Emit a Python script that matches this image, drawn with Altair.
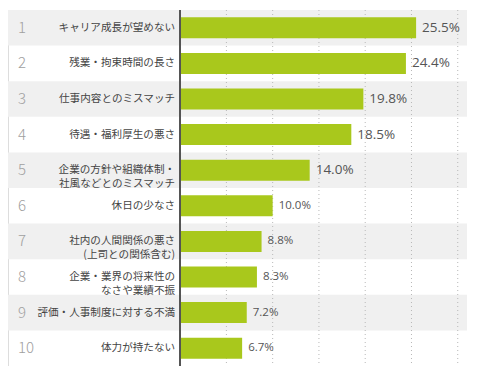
import altair as alt
import pandas as pd

ranks = [1, 2, 3, 4, 5, 6, 7, 8, 9, 10]
labels = [
    "キャリア成長が望めない",
    "残業・拘束時間の長さ",
    "仕事内容とのミスマッチ",
    "待遇・福利厚生の悪さ",
    "企業の方針や組織体制・\n社風などとのミスマッチ",
    "休日の少なさ",
    "社内の人間関係の悪さ\n(上司との関係含む)",
    "企業・業界の将来性の\nなさや業績不振",
    "評価・人事制度に対する不満",
    "体力が持たない",
]
values = [25.5, 24.4, 19.8, 18.5, 14.0, 10.0, 8.8, 8.3, 7.2, 6.7]
grid_ticks = [5, 10, 15, 20, 25, 30]

df = pd.DataFrame({"rank": ranks, "label": labels, "value": values})
df["vtxt"] = [f"{v:.1f}%" for v in values]
df["odd"] = [r % 2 == 1 for r in ranks]
grid_df = pd.DataFrame({"g": grid_ticks})

XMIN, XMAX = -18.6, 31.0
FONT = "Noto Sans CJK JP"

xs = alt.Scale(domain=[XMIN, XMAX], nice=False, zero=False)
ys = alt.Scale(paddingInner=0, paddingOuter=0)
Y = alt.Y("rank:O", scale=ys, axis=None)

base = alt.Chart(df)

bands = base.transform_filter("datum.odd").mark_rect(color="#f0f0f0").encode(
    x=alt.datum(XMIN, scale=xs, axis=None), x2=alt.datum(XMAX), y=Y
)

grid = alt.Chart(grid_df).mark_rule(color="#b8b8b8", strokeDash=[1, 3], strokeWidth=1).encode(
    x=alt.X("g:Q", scale=xs, axis=None)
)

bars = base.mark_bar(color="#a9c81c", size=21).encode(
    x=alt.X("value:Q", scale=xs, axis=None), x2=alt.datum(0), y=Y
)

axis_line = alt.Chart(grid_df).mark_rule(color="#555555", strokeWidth=1.5).encode(
    x=alt.datum(0, scale=xs)
)

rank_txt = base.mark_text(align="left", dx=10, font=FONT, fontSize=15, color="#a0a0a0", fontWeight=300).encode(
    x=alt.datum(XMIN, scale=xs), y=Y, text="rank:N"
)

label_txt = base.mark_text(align="right", dx=-5, font=FONT, fontSize=10.6, color="#444444", lineBreak="\n", lineHeight=14).encode(
    x=alt.datum(0, scale=xs), y=Y, text="label:N"
)

val_txt = base.mark_text(align="left", dx=6, font="Open Sans", color="#555555").encode(
    x=alt.X("value:Q", scale=xs), y=Y, text="vtxt:N",
    size=alt.condition("datum.value >= 14", alt.value(13.5), alt.value(11.5)),
)

chart = alt.layer(bands, grid, bars, axis_line, rank_txt, label_txt, val_txt).properties(
    width=459, height=356, padding={"left": 0, "top": 2, "right": 0, "bottom": 0},
    autosize=alt.AutoSizeParams(type="none"),
).configure_view(stroke=None).configure(background="white")

chart.save("out.html", embed_options={"renderer": "svg", "actions": False})
